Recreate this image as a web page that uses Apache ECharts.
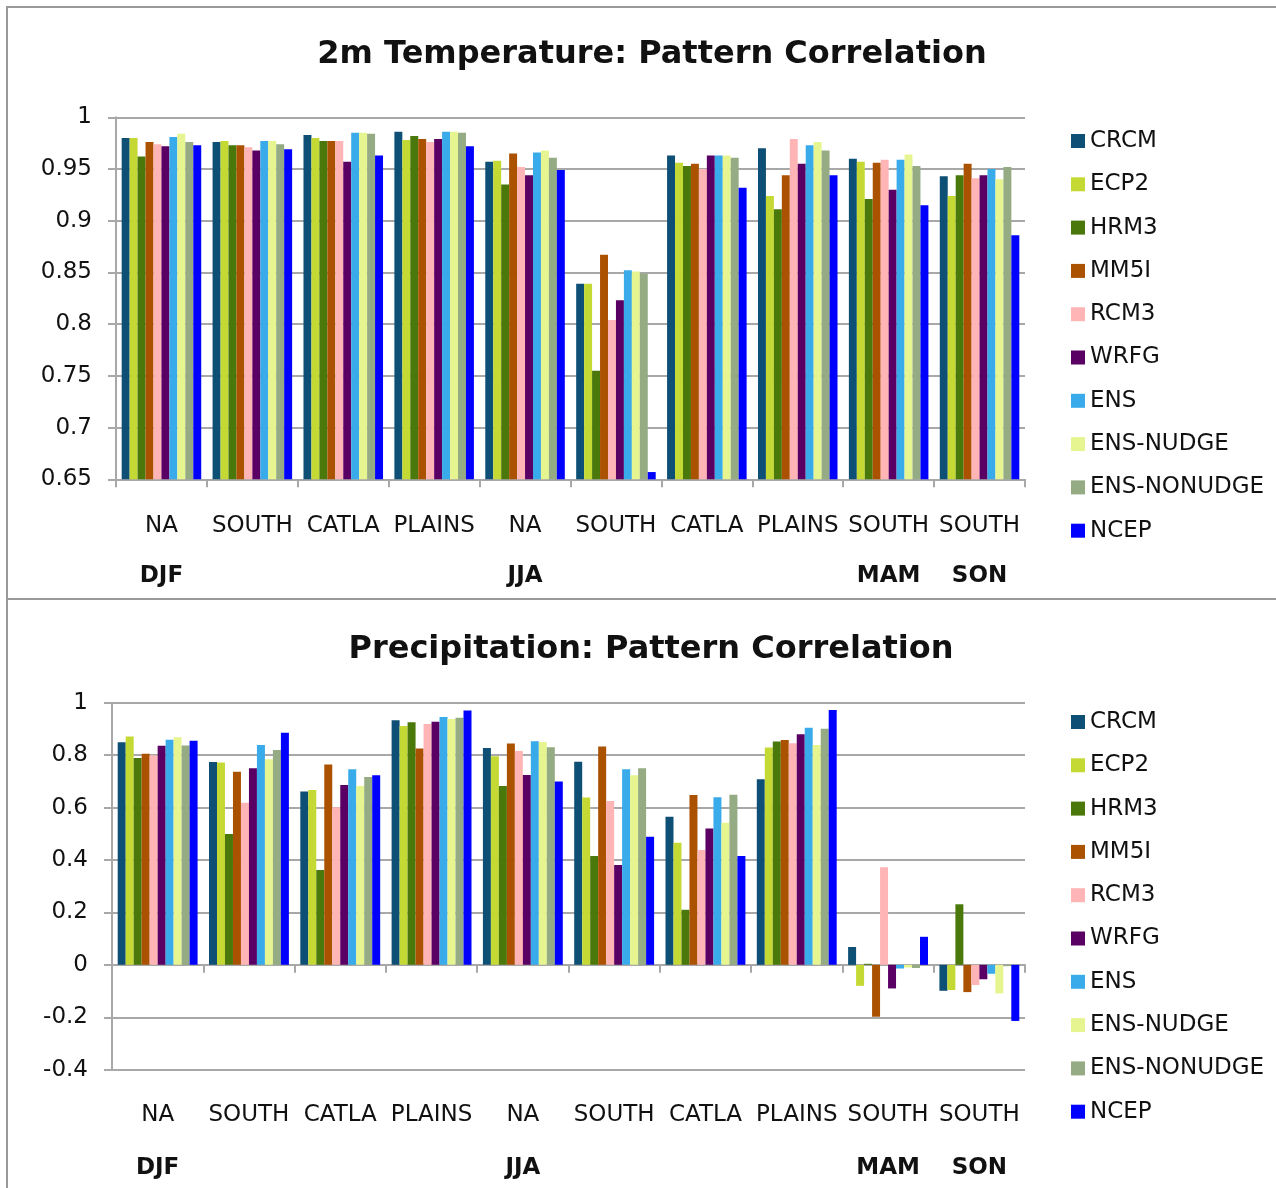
<!DOCTYPE html>
<html>
<head>
<meta charset="utf-8">
<script src="https://cdn.jsdelivr.net/npm/echarts@6/dist/echarts.min.js"></script>
<style>
  html, body { margin: 0; padding: 0; background: #fff; }
  #chart { width: 1276px; height: 1188px; }
</style>
</head>
<body>
<div id="chart"></div>
<script>
// ---------- data ----------
const categories = ['NA', 'SOUTH', 'CATLA', 'PLAINS', 'NA', 'SOUTH', 'CATLA', 'PLAINS', 'SOUTH', 'SOUTH'];
const seasons = ['DJF', '', '', '', 'JJA', '', '', '', 'MAM', 'SON'];
const seriesNames = ['CRCM', 'ECP2', 'HRM3', 'MM5I', 'RCM3', 'WRFG', 'ENS', 'ENS-NUDGE', 'ENS-NONUDGE', 'NCEP'];

// 2m Temperature pattern correlation
const tempCRCM       = [0.980, 0.976, 0.983, 0.986, 0.957, 0.839, 0.963, 0.970, 0.960, 0.943];
const tempECP2       = [0.980, 0.977, 0.980, 0.978, 0.958, 0.839, 0.956, 0.924, 0.957, 0.924];
const tempHRM3       = [0.962, 0.973, 0.977, 0.982, 0.935, 0.755, 0.953, 0.911, 0.921, 0.944];
const tempMM5I       = [0.976, 0.973, 0.977, 0.979, 0.965, 0.867, 0.955, 0.944, 0.956, 0.955];
const tempRCM3       = [0.974, 0.971, 0.977, 0.976, 0.952, 0.804, 0.950, 0.979, 0.959, 0.941];
const tempWRFG       = [0.972, 0.968, 0.957, 0.979, 0.944, 0.823, 0.963, 0.955, 0.930, 0.944];
const tempENS        = [0.981, 0.977, 0.985, 0.986, 0.966, 0.852, 0.963, 0.973, 0.959, 0.950];
const tempENSNUDGE   = [0.984, 0.977, 0.985, 0.986, 0.968, 0.851, 0.963, 0.976, 0.964, 0.940];
const tempENSNONUDGE = [0.976, 0.974, 0.984, 0.985, 0.961, 0.849, 0.961, 0.968, 0.953, 0.952];
const tempNCEP       = [0.973, 0.969, 0.963, 0.972, 0.949, 0.657, 0.932, 0.944, 0.915, 0.886];

// Precipitation pattern correlation
const precCRCM       = [0.849, 0.774, 0.661, 0.933, 0.827, 0.775, 0.565, 0.708, 0.068, -0.099];
const precECP2       = [0.871, 0.772, 0.667, 0.911, 0.796, 0.638, 0.466, 0.829, -0.080, -0.096];
const precHRM3       = [0.789, 0.499, 0.362, 0.925, 0.682, 0.415, 0.210, 0.852, 0.004, 0.231];
const precMM5I       = [0.805, 0.737, 0.764, 0.825, 0.844, 0.833, 0.648, 0.858, -0.198, -0.104];
const precRCM3       = [0.800, 0.618, 0.601, 0.919, 0.816, 0.625, 0.438, 0.845, 0.372, -0.077];
const precWRFG       = [0.836, 0.750, 0.686, 0.927, 0.724, 0.381, 0.520, 0.880, -0.090, -0.055];
const precENS        = [0.859, 0.839, 0.746, 0.945, 0.853, 0.746, 0.639, 0.904, -0.014, -0.034];
const precENSNUDGE   = [0.868, 0.784, 0.682, 0.938, 0.850, 0.723, 0.542, 0.839, -0.010, -0.109];
const precENSNONUDGE = [0.837, 0.820, 0.717, 0.943, 0.830, 0.750, 0.649, 0.901, -0.012, -0.005];
const precNCEP       = [0.855, 0.885, 0.723, 0.970, 0.699, 0.489, 0.415, 0.972, 0.107, -0.214];

const tempTicks = [0.65, 0.7, 0.75, 0.8, 0.85, 0.9, 0.95, 1];
const precTicks = [-0.4, -0.2, 0, 0.2, 0.4, 0.6, 0.8, 1];

const tempData = [tempCRCM, tempECP2, tempHRM3, tempMM5I, tempRCM3, tempWRFG, tempENS, tempENSNUDGE, tempENSNONUDGE, tempNCEP];
const precData = [precCRCM, precECP2, precHRM3, precMM5I, precRCM3, precWRFG, precENS, precENSNUDGE, precENSNONUDGE, precNCEP];

// ---------- styles ----------
const colors = ['#0d4f75', '#c5d935', '#4a780a', '#aa5200', '#ffb5b5', '#5a0064', '#39aaea', '#e7f590', '#94ab83', '#0000ff'];
const FONT = 'DejaVu Sans';
const gridGray = '#a8a8a8';

function catLabel(margin, lh) {
  return {
    margin: margin,
    interval: 0,
    fontFamily: FONT,
    formatter: function (v, i) {
      const s = seasons[i] ? seasons[i] : ' ';
      return '{c|' + categories[i] + '}\n{s|' + s + '}';
    },
    rich: {
      c: { fontFamily: FONT, fontSize: 23, color: '#111', lineHeight: lh, align: 'center' },
      s: { fontFamily: FONT, fontSize: 23, fontWeight: 'bold', color: '#111', lineHeight: lh, align: 'center' }
    }
  };
}

function yAxisCfg(gridIndex, min, max, interval, decimals) {
  return {
    type: 'value', gridIndex: gridIndex, min: min, max: max, interval: interval,
    axisLine: { show: true, lineStyle: { color: gridGray, width: 2 } },
    axisTick: { show: true, inside: false, length: 8, lineStyle: { color: gridGray, width: 2 } },
    splitLine: { show: true, lineStyle: { color: gridGray, width: 2 } },
    axisLabel: {
      margin: 24, fontFamily: FONT, fontSize: 23, color: '#111',
      formatter: function (v) { return String(+v.toFixed(decimals)); }
    }
  };
}

const series = [];
seriesNames.forEach(function (n, k) {
  series.push({
    name: n, type: 'bar', xAxisIndex: 0, yAxisIndex: 0,
    data: tempData[k], barGap: '0%', barCategoryGap: '12.5%',
    itemStyle: { color: colors[k] }, animation: false
  });
});
seriesNames.forEach(function (n, k) {
  series.push({
    name: n, type: 'bar', xAxisIndex: 2, yAxisIndex: 1,
    data: precData[k], barGap: '0%', barCategoryGap: '12.5%',
    itemStyle: { color: colors[k] }, animation: false
  });
});

function legendCfg(top) {
  return {
    data: seriesNames, orient: 'vertical', left: 1066, top: top,
    itemWidth: 14, itemHeight: 14, itemGap: 19.3, icon: 'rect',
    selectedMode: false,
    textStyle: { fontFamily: FONT, fontSize: 23, color: '#111', lineHeight: 24 }
  };
}

const option = {
  backgroundColor: '#fff',
  animation: false,
  color: colors,
  title: [
    { text: '2m Temperature: Pattern Correlation', left: 647, top: 34, textAlign: 'center',
      textStyle: { fontFamily: FONT, fontSize: 32, fontWeight: 'bold', color: '#111' } },
    { text: 'Precipitation: Pattern Correlation', left: 646, top: 629, textAlign: 'center',
      textStyle: { fontFamily: FONT, fontSize: 32, fontWeight: 'bold', color: '#111' } }
  ],
  legend: [legendCfg(124), legendCfg(705)],
  grid: [
    { left: 116, top: 117.3, width: 909, height: 362, containLabel: false },
    { left: 112, top: 702.7, width: 913, height: 367, containLabel: false }
  ],
  xAxis: [
    { type: 'category', gridIndex: 0, data: categories, position: 'bottom',
      axisLine: { show: true, onZero: false, lineStyle: { color: gridGray, width: 2 } },
      axisTick: { show: true, length: 8, lineStyle: { color: gridGray, width: 2 } },
      axisLabel: catLabel(21.7, 50) },
    { type: 'category', gridIndex: 0, data: categories, show: false },
    { type: 'category', gridIndex: 1, data: categories, position: 'bottom',
      axisLine: { show: true, onZero: true, lineStyle: { color: gridGray, width: 2 } },
      axisTick: { show: true, length: 8, lineStyle: { color: gridGray, width: 2 } },
      axisLabel: { show: false } },
    { type: 'category', gridIndex: 1, data: categories, position: 'bottom',
      axisLine: { show: false, onZero: false },
      axisTick: { show: false },
      axisLabel: catLabel(19, 53) }
  ],
  yAxis: [
    yAxisCfg(0, tempTicks[0], tempTicks[tempTicks.length - 1], 0.05, 2),
    yAxisCfg(1, precTicks[0], precTicks[precTicks.length - 1], 0.2, 1)
  ],
  graphic: [
    { type: 'rect', shape: { x: 7, y: 7, width: 1280, height: 592 }, style: { fill: 'none', stroke: '#9a9a9a', lineWidth: 2 }, z: 100 },
    { type: 'rect', shape: { x: 7, y: 599, width: 1280, height: 600 }, style: { fill: 'none', stroke: '#9a9a9a', lineWidth: 2 }, z: 100 }
  ],
  series: series
};

const chart = echarts.init(document.getElementById('chart'), null, { renderer: 'canvas' });
chart.setOption(option);
</script>
</body>
</html>
